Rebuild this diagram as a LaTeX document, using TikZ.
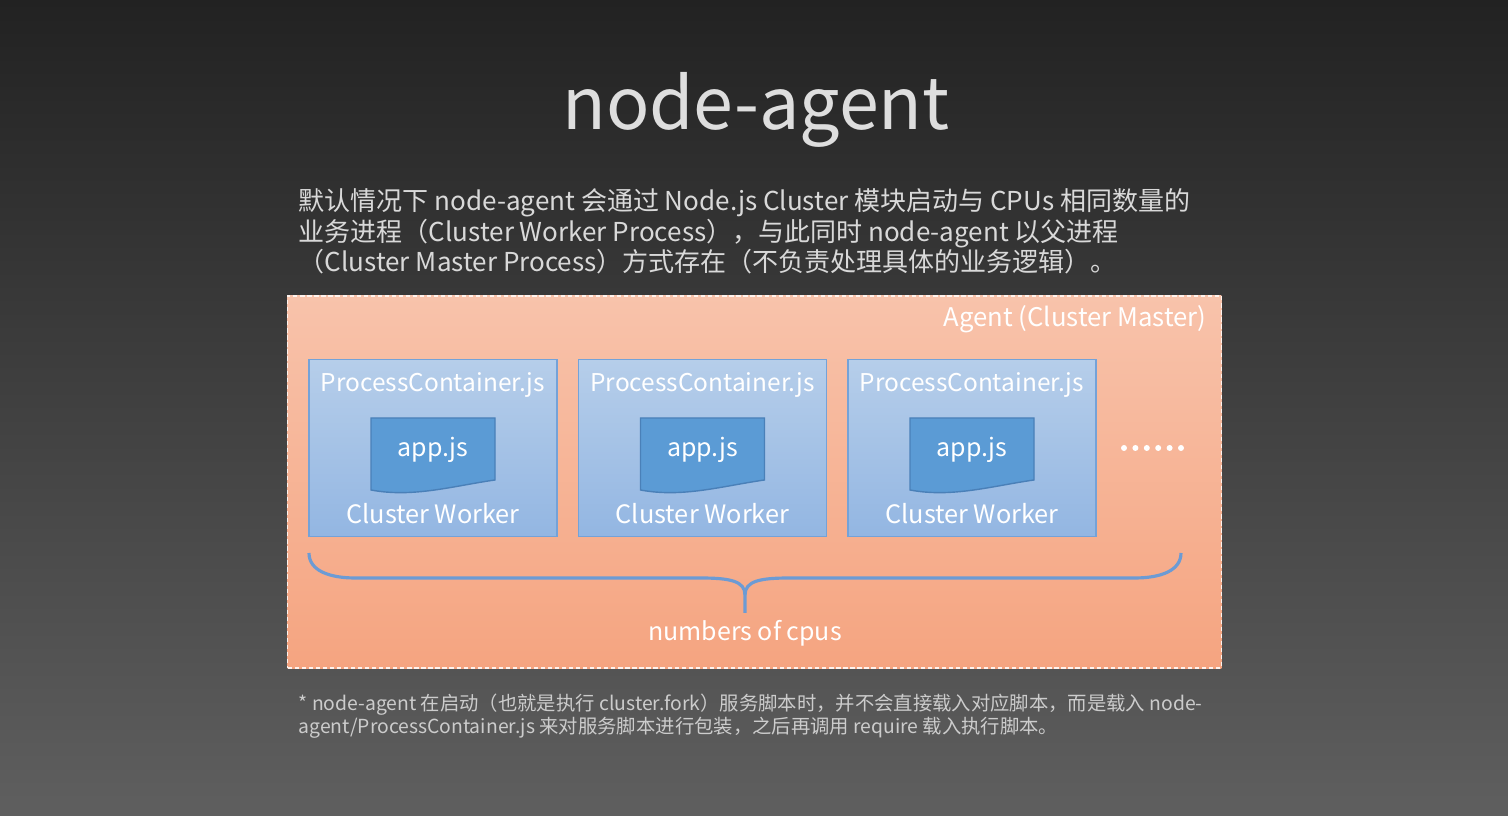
\documentclass[tikz,border=0pt]{standalone}
\usepackage{fontspec}
\setmainfont{Noto Sans CJK SC}
\usepackage{xcolor}
\usetikzlibrary{positioning}

\definecolor{bgtop}{HTML}{222222}
\definecolor{bgbot}{HTML}{5F5F5F}
\definecolor{agenttop}{HTML}{F8C3AB}
\definecolor{agentbot}{HTML}{F5A480}
\definecolor{workertop}{HTML}{B6CEEA}
\definecolor{workerbot}{HTML}{93B6E2}
\definecolor{workerline}{HTML}{74A2D8}
\definecolor{appfill}{HTML}{5B9BD5}
\definecolor{appline}{HTML}{4A80B8}
\definecolor{bracecol}{HTML}{6C9BD4}
\definecolor{titlegray}{HTML}{DEDEDE}
\definecolor{textgray}{HTML}{D9D9D9}
\definecolor{notegray}{HTML}{CCCCCC}

\begin{document}
\begin{tikzpicture}[x=0.01cm, y=0.01cm, line width=0.4pt,
    agentbox/.style={top color=agenttop, bottom color=agentbot, draw=white!80!agenttop,
        dash pattern=on 1.2pt off 0.8pt, minimum width=9.33cm, minimum height=3.72cm, inner sep=0pt},
    workerbox/.style={draw=workerline, top color=workertop, bottom color=workerbot,
        minimum width=2.48cm, minimum height=1.77cm, inner sep=0pt},
    appdoc/.style={draw=appline, fill=appfill},
    whitelabel/.style={text=white, inner sep=0pt, font=\fontsize{7.2}{9}\selectfont},
    bodytext/.style={text=textgray, inner sep=0pt, anchor=base west, font=\fontsize{7.4}{9}\selectfont},
    notetext/.style={text=notegray, inner sep=0pt, anchor=base west, font=\fontsize{5.5}{7}\selectfont}]

% background
\shade[top color=bgtop, bottom color=bgbot] (0,0) rectangle (1508,816);
\useasboundingbox (0,0) rectangle (1508,816);

\node[text=titlegray, inner sep=0pt, anchor=base, font=\fontsize{20.4}{24}\selectfont] (title) at (756,686) {node-agent};

\node[bodytext] (line1) at (298,605) {默认情况下 node-agent 会通过 Node.js Cluster 模块启动与 CPUs 相同数量的};
\node[bodytext] (line2) at (298,574) {业务进程（Cluster Worker Process），与此同时 node-agent 以父进程};
\node[bodytext] (line3) at (298,544) {（Cluster Master Process）方式存在（不负责处理具体的业务逻辑）。};

% the master process
\node[agentbox] (agent) at (754.5,334) {};
\node[whitelabel, anchor=east, font=\fontsize{7.3}{9}\selectfont] (master) at (1207,497) {Agent (Cluster Master)};

% one worker per cpu
\foreach \i in {0,1,2} {
    \pgfmathsetmacro{\cx}{433+269.5*\i}
    \node[workerbox] (w\i) at (\cx,368) {};
    \node[whitelabel, anchor=base, font=\fontsize{6.95}{9}\selectfont] (pc\i) at ([yshift=-0.325cm]w\i.north) {ProcessContainer.js};
    \draw[appdoc] (\cx-62,398) -- (\cx+62,398) -- (\cx+62,336)
        .. controls (\cx+20,330) and (\cx-20,318) .. (\cx-62,326) -- cycle;
    \node[whitelabel, anchor=base, font=\fontsize{7.1}{9}\selectfont] (app\i) at ([yshift=-0.09cm]w\i.center) {app.js};
    \node[whitelabel, anchor=base] (cw\i) at ([yshift=0.135cm]w\i.south) {Cluster Worker};
}

\foreach \k in {0,...,5} {
    \fill[white] (1124+11.4*\k,368) circle (3);
}

% brace under the workers
\coordinate (tip) at (745,203);
\draw[bracecol, line width=0.9pt] (309,263) .. controls (309,245) and (330,238) .. (355,238)
    -- (700,238) .. controls (730,238) and (745,235) .. (745,221) -- (tip);
\draw[bracecol, line width=0.9pt] (745,221) .. controls (745,235) and (760,238) .. (790,238)
    -- (1135,238) .. controls (1160,238) and (1181,245) .. (1181,263);
\node[whitelabel, font=\fontsize{7.1}{9}\selectfont] (cpus) at (745,183) {numbers of cpus};

\node[notetext] (note1) at (298,105) {* node-agent 在启动（也就是执行 cluster.fork）服务脚本时，并不会直接载入对应脚本，而是载入 node-};
\node[notetext] (note2) at (298,82) {agent/ProcessContainer.js 来对服务脚本进行包装，之后再调用 require 载入执行脚本。};
\end{tikzpicture}
\end{document}
